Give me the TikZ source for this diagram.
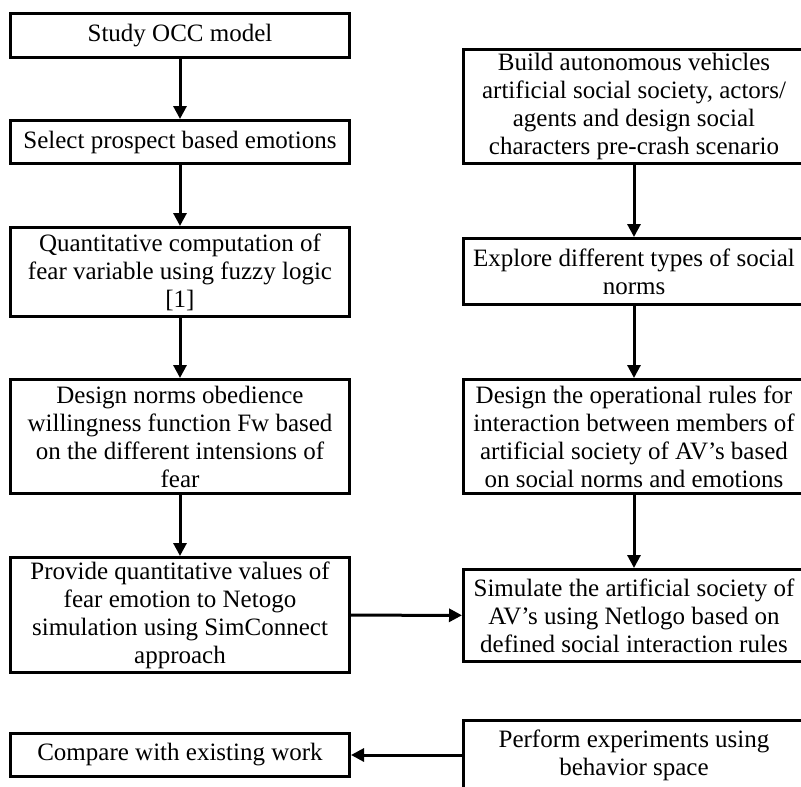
\documentclass[tikz,border=0pt]{standalone}
\usepackage{fontspec}
\setmainfont{Liberation Serif}
\usetikzlibrary{arrows.meta, positioning}

\begin{document}
\begin{tikzpicture}[
    x=1pt, y=-1pt,
    >={Triangle[length=13pt, width=13pt]},
    node distance=60pt,
    box/.style={draw, rectangle, line width=3pt, minimum width=339pt, inner sep=2pt, align=center, font=\fontsize{25}{28}\selectfont},
    rbox/.style={box, minimum width=341pt},
    arrow/.style={->, line width=3pt}
]
\useasboundingbox (0,0) rectangle (801,787);

% Left column
\node[box, minimum height=44pt] (occ) at (180,35.5) {Study OCC model};
\node[box, minimum height=43pt, below=of occ] (prospect) {Select prospect based emotions};
\node[box, minimum height=89pt, below=61pt of prospect] (fuzzy) {Quantitative computation of\\fear variable using fuzzy logic\\{[1]}};
\node[box, minimum height=114pt, below=of fuzzy] (willing) {Design norms obedience\\willingness function Fw based\\on the different intensions of\\fear};
\node[box, minimum height=115pt, below=61pt of willing] (provide) {Provide quantitative values of\\fear emotion to Netogo\\simulation using SimConnect\\approach};
\node[box, minimum height=43pt, below=58pt of provide] (compare) {Compare with existing work};

\draw[arrow] (occ) -- (prospect);
\draw[arrow] (prospect) -- (fuzzy);
\draw[arrow] (fuzzy) -- (willing);
\draw[arrow] (willing) -- (provide);

% Right column
\node[rbox, minimum height=114pt] (society) at (634,106.5) {Build autonomous vehicles\\artificial social society, actors/\\agents and design social\\characters pre-crash scenario};
\node[rbox, minimum height=66pt, below=72pt of society] (norms) {Explore different types of social\\norms};
\node[rbox, minimum height=114pt, below=72pt of norms] (rules) {Design the operational rules for\\interaction between members of\\artificial society of AV's based\\on social norms and emotions};
\node[rbox, minimum height=92pt, below=73pt of rules] (simulate) {Simulate the artificial society of\\AV's using Netlogo based on\\defined social interaction rules};
\node[rbox, minimum height=69pt, below=56pt of simulate] (perform) {Perform experiments using\\behavior space};

\draw[arrow] (society) -- (norms);
\draw[arrow] (norms) -- (rules);
\draw[arrow] (rules) -- (simulate);

% Cross links
\draw[arrow] (provide) -- (simulate);
\draw[arrow] (perform) -- (compare);

\end{tikzpicture}
\end{document}
